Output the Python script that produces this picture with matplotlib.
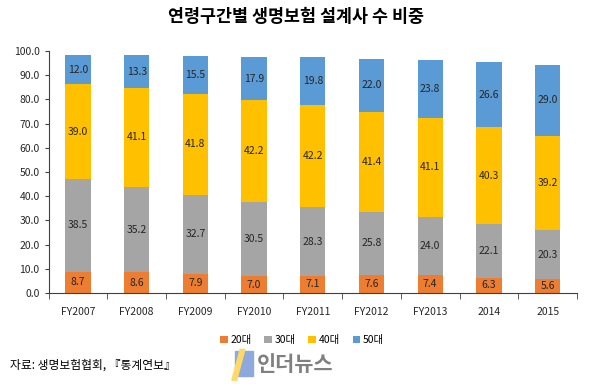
import matplotlib.pyplot as plt
import matplotlib.patches as mpatches
import numpy as np

plt.rcParams['font.family'] = ['Noto Sans CJK KR', 'DejaVu Sans']

# 데이터
years = ['FY2007', 'FY2008', 'FY2009', 'FY2010', 'FY2011', 'FY2012', 'FY2013', '2014', '2015']
age20 = [8.7, 8.6, 7.9, 7.0, 7.1, 7.6, 7.4, 6.3, 5.6]
age30 = [38.5, 35.2, 32.7, 30.5, 28.3, 25.8, 24.0, 22.1, 20.3]
age40 = [39.0, 41.1, 41.8, 42.2, 42.2, 41.4, 41.1, 40.3, 39.2]
age50 = [12.0, 13.3, 15.5, 17.9, 19.8, 22.0, 23.8, 26.6, 29.0]
series_names = ['20대', '30대', '40대', '50대']
colors = ['#ED7D31', '#A5A5A5', '#FFC000', '#5B9BD5']

fig = plt.figure(figsize=(5.93, 3.84), dpi=100)
ax = fig.add_axes([0.082, 0.237, 0.891, 0.630])

x = np.arange(len(years))
bottom = np.zeros(len(years))
for vals, name, c in zip([age20, age30, age40, age50], series_names, colors):
    vals = np.array(vals)
    ax.bar(x, vals, bottom=bottom, width=0.43, color=c, label=name)
    for xi, b, v in zip(x, bottom, vals):
        ax.text(xi, b + v / 2, f'{v:.1f}', ha='center', va='center', fontsize=7.5, color='#262626')
    bottom += vals

ax.set_xlim(-0.5, len(years) - 0.5)
ax.set_ylim(0, 100)
ax.set_yticks(np.arange(0, 101, 10))
ax.set_yticklabels([f'{v:.1f}' for v in np.arange(0, 101, 10)], fontsize=7.5, color='#262626')
ax.set_xticks(x)
ax.set_xticklabels(years, fontsize=7.5, color='#262626')
ax.tick_params(axis='x', length=0, pad=10)
ax.set_xticks(np.arange(-0.5, len(years), 1), minor=True)
ax.tick_params(axis='x', which='minor', length=4, color='#404040')
ax.tick_params(axis='y', length=3, color='#404040')
for s in ['top', 'right']:
    ax.spines[s].set_visible(False)
ax.spines['left'].set_color('#404040')
ax.spines['bottom'].set_color('#404040')

# 제목
fig.text(0.5, 0.955, '연령구간별 생명보험 설계사 수 비중', ha='center', va='center', fontsize=12.5, fontweight='bold')

# 범례
ax.legend(loc='upper center', bbox_to_anchor=(0.48, -0.135), ncol=4, frameon=False,
          fontsize=7.5, handlelength=0.7, handleheight=0.7, handletextpad=0.3, columnspacing=1.2)

# 출처
fig.text(0.017, 0.05, '자료: 생명보험협회, 『통계연보』', fontsize=8.5, va='center')

# 로고
fig.patches.append(mpatches.Rectangle((0.397, 0.02), 0.03, 0.065, transform=fig.transFigure,
                                       color='#8EA9DB', zorder=1))
fig.patches.append(mpatches.Polygon([[0.391, 0.01], [0.405, 0.09], [0.413, 0.09], [0.399, 0.01]],
                                     closed=True, transform=fig.transFigure, color='#FFD966', zorder=2))
fig.text(0.434, 0.05, '인더뉴스', fontsize=15, fontweight='bold', color='#808080', va='center')

fig.savefig('out.png', dpi=100)
